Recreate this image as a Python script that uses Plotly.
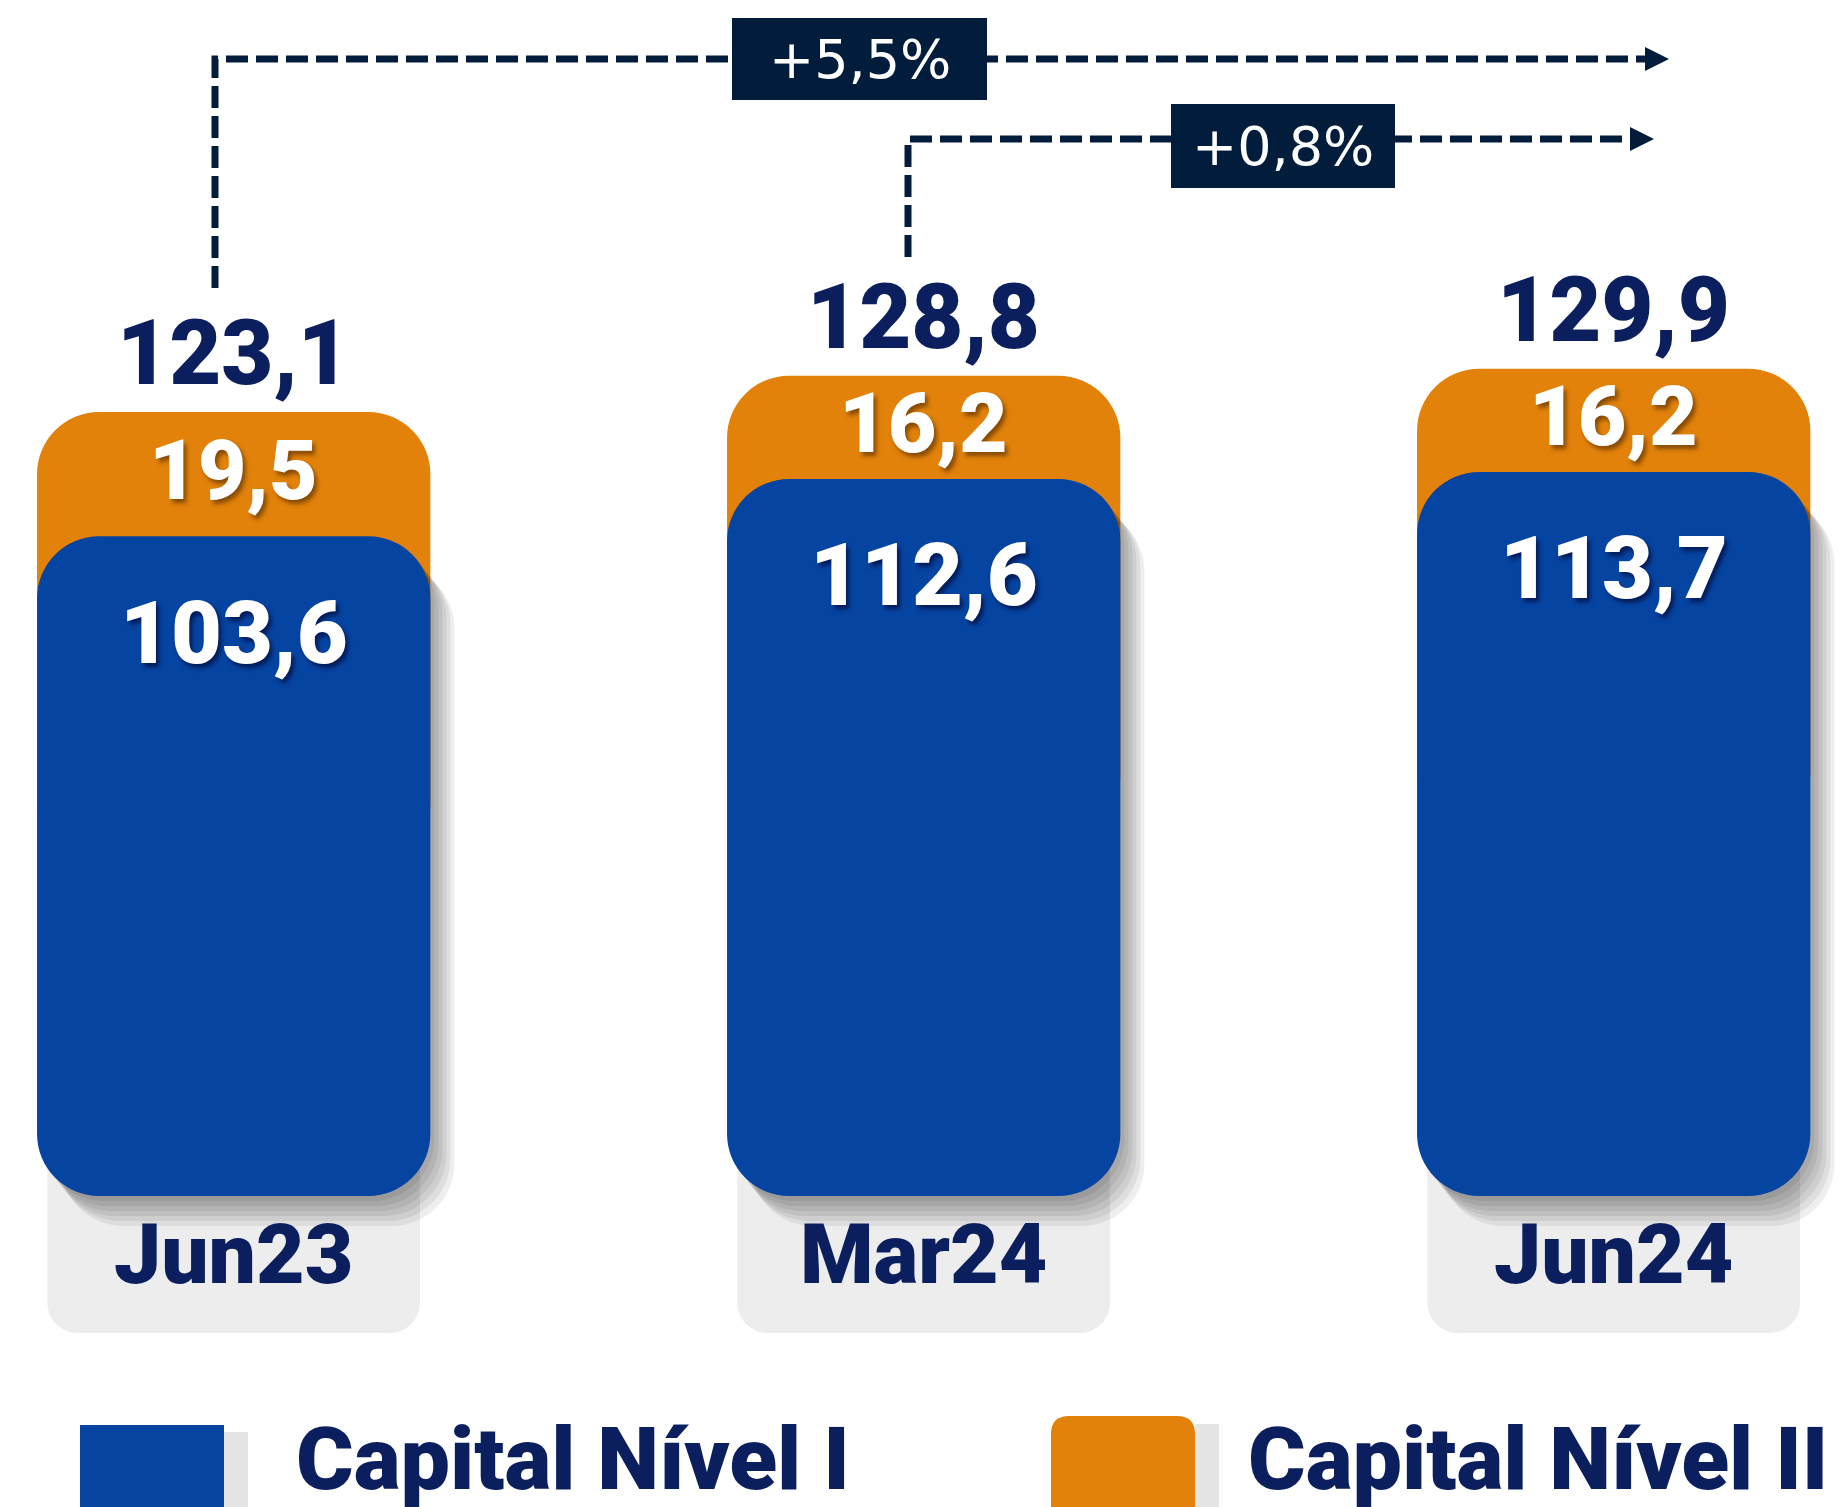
import plotly.graph_objects as go

# ---------------- data ----------------
categories = ["Jun23", "Mar24", "Jun24"]
tier1 = [103.6, 112.6, 113.7]          # Capital Nível I
tier2 = [19.5, 16.2, 16.2]             # Capital Nível II
totals = [123.1, 128.8, 129.9]         # total capital
growth_labels = ["+5,5%", "+0,8%"]
legend_names = ["Capital Nível I", "Capital Nível II"]


def fmt(v):
    return f"{v:.1f}".replace(".", ",")


# ---------------- geometry / style ----------------
PAGE_W, PAGE_H = 1846, 1507
OFF = 8                                  # default body margin of the html page
W, H = PAGE_W - OFF, PAGE_H - OFF
PX_PER_X = 690.0
X0_PX = 233.7 - OFF
Y0_PX = 1196.0 - OFF
PX_PER_Y = 6.368
x_range = [-X0_PX / PX_PER_X, (W - X0_PX) / PX_PER_X]
y_range = [-(H - Y0_PX) / PX_PER_Y, Y0_PX / PX_PER_Y]


def ux(px):
    return px / PX_PER_X


def uy(px):
    return px / PX_PER_Y


def pxp(px):            # page pixel -> paper x
    return (px - OFF) / W


def pyp(py):            # page pixel -> paper y
    return 1 - (py - OFF) / H


NAVY = "#0b1f5e"
DARK = "#021d3b"
BLUE = "#0644a2"
ORANGE = "#e2820a"
GRAY_BOX = "#ededed"
FONT = "Roboto, 'Open Sans', Arial, sans-serif"

BAR_W = 0.57
RADIUS = 62
BOX_W = 0.54
BOX_TOP = 30.0
BOX_BOTTOM = -21.5

fig = go.Figure()

# gray label boxes (rounded at the bottom)
fig.add_bar(x=categories, base=[BOX_TOP] * len(categories),
            y=[BOX_BOTTOM - BOX_TOP] * len(categories), width=BOX_W,
            marker=dict(color=GRAY_BOX, cornerradius=30, line_width=0),
            hoverinfo="skip", showlegend=False)

# orange (tier 2) sits on top, partly hidden behind tier 1
orange_base = [v * 0.5 for v in tier1]
fig.add_bar(x=categories, base=orange_base,
            y=[t - b for t, b in zip(totals, orange_base)], width=BAR_W,
            marker=dict(color=ORANGE, cornerradius=RADIUS, line_width=0),
            hoverinfo="skip", showlegend=False, name=legend_names[1])

# soft drop shadow for tier 1
for k in range(1, 7):
    dy = uy(5 * k)
    fig.add_bar(x=categories, base=[-dy] * len(tier1), y=tier1, width=BAR_W,
                offset=-BAR_W / 2 + ux(4 * k),
                marker=dict(color="rgba(0,0,0,0.065)", cornerradius=RADIUS, line_width=0),
                hoverinfo="skip", showlegend=False)

# tier 1 bars
fig.add_bar(x=categories, base=[0.0] * len(tier1), y=tier1, width=BAR_W,
            marker=dict(color=BLUE, cornerradius=RADIUS, line_width=0),
            hoverinfo="skip", showlegend=False, name=legend_names[0])

# ---------------- annotations ----------------
ann = []
for c, t1, t2, tot in zip(categories, tier1, tier2, totals):
    ann.append(dict(x=c, y=tot, xref="x", yref="y", text=fmt(tot), showarrow=False,
                    yanchor="bottom", yshift=4,
                    font=dict(family=FONT, size=90, color=NAVY, weight=900)))
    ann.append(dict(x=c, y=(t1 + tot) / 2, xref="x", yref="y", text=fmt(t2),
                    showarrow=False, yanchor="middle", yshift=4,
                    font=dict(family=FONT, size=84, color="white", weight=900,
                              shadow="3px 4px 4px rgba(60,30,0,0.55)")))
    ann.append(dict(x=c, y=t1, xref="x", yref="y", text=fmt(t1), showarrow=False,
                    yanchor="middle", yshift=-96,
                    font=dict(family=FONT, size=88, color="white", weight=900,
                              shadow="3px 4px 4px rgba(0,0,40,0.6)")))
    ann.append(dict(x=c, y=-9.2, xref="x", yref="y", text=c, showarrow=False,
                    yanchor="middle",
                    font=dict(family=FONT, size=84, color=NAVY, weight=900)))

shapes = []

# growth arrows (page-pixel layout)
arrows = [
    dict(x=215, y_start=288, y=59, x_end=1669, box=(732, 18, 987, 100)),
    dict(x=908, y_start=257, y=139, x_end=1654, box=(1171, 104, 1395, 188)),
]
for a, lbl in zip(arrows, growth_labels):
    path = (f"M {pxp(a['x'])},{pyp(a['y_start'])} L {pxp(a['x'])},{pyp(a['y'])} "
            f"L {pxp(a['x_end'] - 22)},{pyp(a['y'])}")
    shapes.append(dict(type="path", xref="paper", yref="paper", path=path,
                       line=dict(color=DARK, width=7, dash="22px,8px")))
    tip = (f"M {pxp(a['x_end'])},{pyp(a['y'])} L {pxp(a['x_end'] - 24)},{pyp(a['y'] - 12)} "
           f"L {pxp(a['x_end'] - 24)},{pyp(a['y'] + 12)} Z")
    shapes.append(dict(type="path", xref="paper", yref="paper", path=tip,
                       fillcolor=DARK, line=dict(width=0)))
    x0, y0, x1, y1 = a["box"]
    shapes.append(dict(type="rect", xref="paper", yref="paper",
                       x0=pxp(x0), x1=pxp(x1), y0=pyp(y1), y1=pyp(y0),
                       fillcolor=DARK, line=dict(width=0)))
    ann.append(dict(x=pxp((x0 + x1) / 2), y=pyp((y0 + y1) / 2 + 1), xref="paper",
                    yref="paper", text=lbl, showarrow=False, xanchor="center",
                    yanchor="middle",
                    font=dict(family="'DejaVu Sans', sans-serif", size=54,
                              color="white")))

# legend (drawn manually to match the large swatches)
shapes.append(dict(type="rect", xref="paper", yref="paper", x0=pxp(224), x1=pxp(248),
                   y0=pyp(1540), y1=pyp(1432), fillcolor="rgba(0,0,0,0.10)",
                   line=dict(width=0)))
shapes.append(dict(type="rect", xref="paper", yref="paper", x0=pxp(80), x1=pxp(224),
                   y0=pyp(1540), y1=pyp(1425), fillcolor=BLUE, line=dict(width=0)))


def rrect(x0, y0, x1, y1, r):
    return (f"M {pxp(x0 + r)},{pyp(y0)} L {pxp(x1 - r)},{pyp(y0)} "
            f"Q {pxp(x1)},{pyp(y0)} {pxp(x1)},{pyp(y0 + r)} "
            f"L {pxp(x1)},{pyp(y1)} L {pxp(x0)},{pyp(y1)} "
            f"L {pxp(x0)},{pyp(y0 + r)} Q {pxp(x0)},{pyp(y0)} {pxp(x0 + r)},{pyp(y0)} Z")


shapes.append(dict(type="rect", xref="paper", yref="paper", x0=pxp(1195), x1=pxp(1219),
                   y0=pyp(1540), y1=pyp(1424), fillcolor="rgba(0,0,0,0.10)",
                   line=dict(width=0)))
shapes.append(dict(type="path", xref="paper", yref="paper",
                   path=rrect(1051, 1416, 1195, 1540, 18),
                   fillcolor=ORANGE, line=dict(width=0)))

for name, xl in zip(legend_names, (294, 1246)):
    ann.append(dict(x=pxp(xl), y=pyp(1458), xref="paper", yref="paper", text=name,
                    showarrow=False, xanchor="left", yanchor="middle",
                    font=dict(family=FONT, size=88, color=NAVY, weight=900)))

fig.update_layout(
    width=W, height=H,
    margin=dict(l=0, r=0, t=0, b=0, pad=0),
    paper_bgcolor="white", plot_bgcolor="white",
    barmode="overlay", showlegend=False,
    xaxis=dict(range=x_range, visible=False, fixedrange=True, type="category"),
    yaxis=dict(range=y_range, visible=False, fixedrange=True),
    annotations=ann, shapes=shapes,
)

fig.write_html("out.html")
